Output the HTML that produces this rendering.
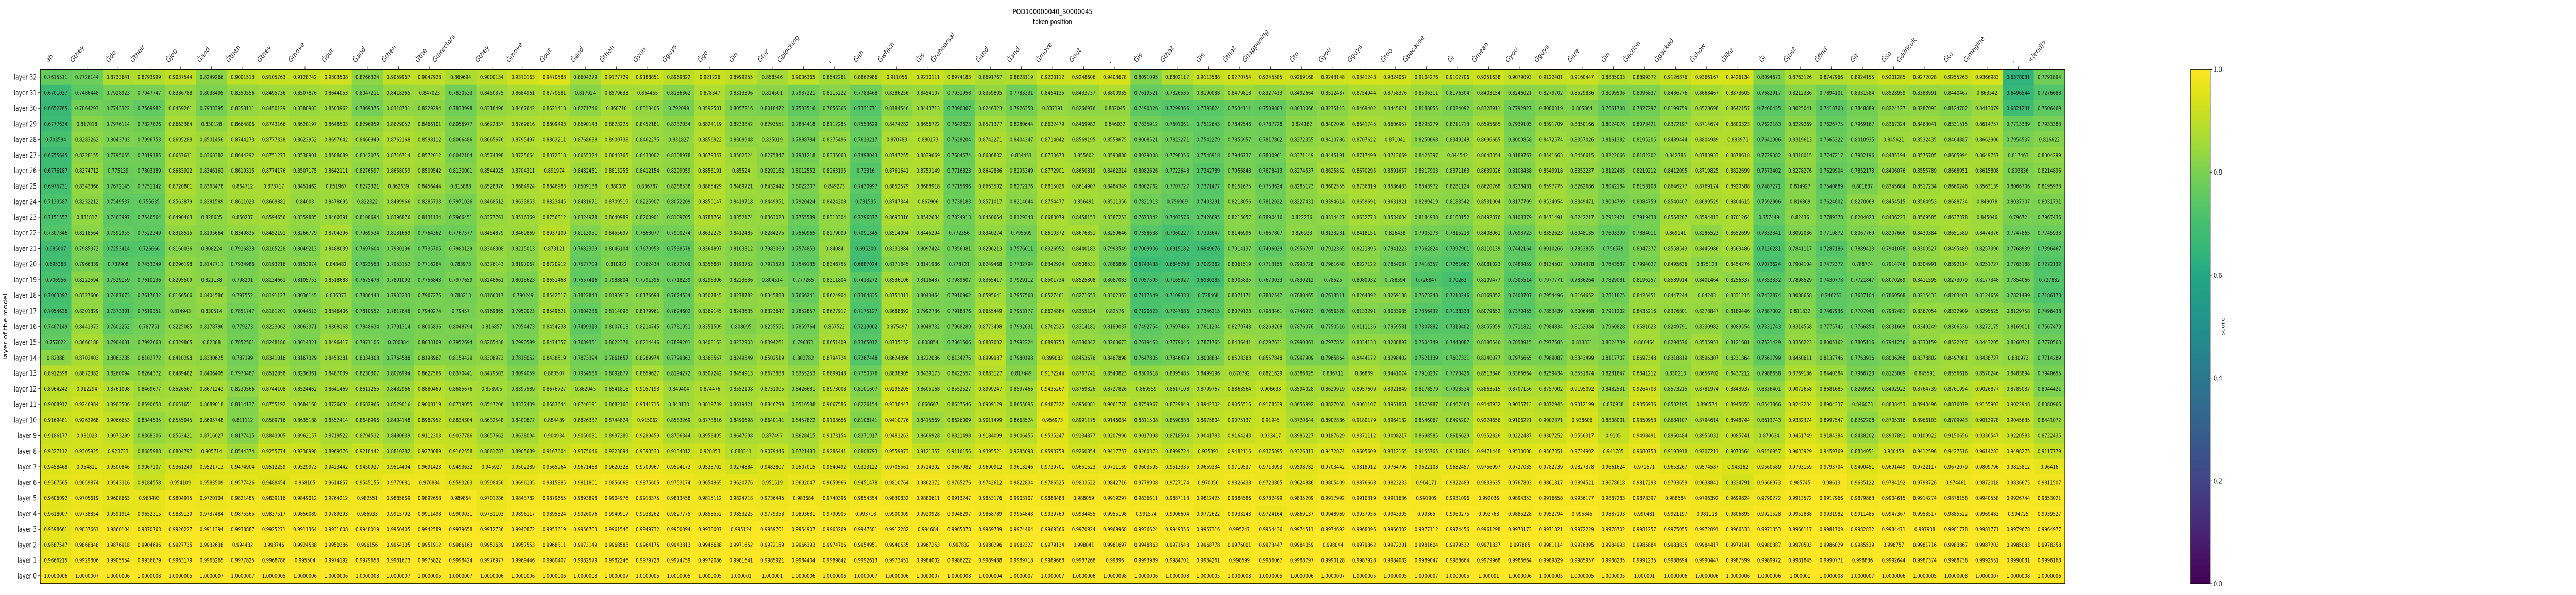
<!DOCTYPE html>
<html><head><meta charset="utf-8">
<style>
html,body{margin:0;padding:0;background:#fff;width:100%;height:100%;overflow:hidden;}
svg{display:block;width:100vw;height:100vh;font-family:"DejaVu Sans","Liberation Sans",sans-serif;}
</style></head>
<body>
<svg id="chart" viewBox="0 0 6500 1155" preserveAspectRatio="none" xmlns="http://www.w3.org/2000/svg">
<defs>
<linearGradient id="viridis" x1="0" y1="1" x2="0" y2="0">
<stop offset="0" stop-color="#440154"/><stop offset="0.1" stop-color="#482475"/><stop offset="0.2" stop-color="#414487"/><stop offset="0.3" stop-color="#355f8d"/><stop offset="0.4" stop-color="#2a788e"/><stop offset="0.5" stop-color="#21918c"/><stop offset="0.6" stop-color="#22a884"/><stop offset="0.65" stop-color="#35b779"/><stop offset="0.7" stop-color="#44bf70"/><stop offset="0.75" stop-color="#5ec962"/><stop offset="0.8" stop-color="#7ad151"/><stop offset="0.85" stop-color="#9fda3a"/><stop offset="0.9" stop-color="#bddf26"/><stop offset="0.95" stop-color="#dfe318"/><stop offset="1" stop-color="#fde725"/>
</linearGradient>
</defs>
<text x="2656" y="28" font-size="15" text-anchor="middle">POD100000040_S0000045</text>
<text x="2656" y="47" font-size="14" text-anchor="middle">token position</text>
<text x="0" y="0" font-size="14" text-anchor="middle" transform="translate(18,634) rotate(-90)">layer of the model</text>
<g id="cells"></g>
<g id="xlabels"></g>
<g id="ylabels"></g>
<rect x="101.5" y="134.5" width="5109" height="998.5" fill="none" stroke="#000" stroke-width="1.6"/>
<g id="colorbar"></g>
</svg>
<script>
const tokens=["ah","Ġthey","Ġdo","Ġtheir","Ġjob","Ġand","Ġthen","Ġthey","Ġmove","Ġout","Ġand","Ġthen","Ġthe","Ġdirectors","Ġthey","Ġmove",
"Ġout","Ġand","Ġthen","Ġyou","Ġguys","Ġgo","Ġin","Ġfor","Ġblocking",",","Ġah","Ġwhich","Ġis","Ġrehearsal","Ġand","Ġand","Ġmove",
"Ġout",",","Ġis","Ġthat","Ġis","Ġthat","Ġhappening","Ġto","Ġyou","Ġguys","Ġtoo","Ġbecause","Ġi","Ġmean","Ġyou","Ġguys",
"Ġare","Ġin","Ġaction","Ġpacked","Ġshow","Ġlike","Ġi","Ġjust","Ġfind","Ġit","Ġso","Ġdifficult","Ġto","Ġimagine",".","<|end|>"];
const layers=["layer 32","layer 31","layer 30","layer 29","layer 28","layer 27","layer 26","layer 25","layer 24","layer 23","layer 22","layer 21","layer 20","layer 19","layer 18","layer 17","layer 16","layer 15","layer 14","layer 13","layer 12","layer 11","layer 10","layer 9","layer 8","layer 7","layer 6","layer 5","layer 4","layer 3","layer 2","layer 1","layer 0"];
const cbTicks=[0.0,0.2,0.4,0.6,0.8,1.0];
const L32=[0.7615511,0.7726144,0.8733641,0.8793999,0.9037544,0.8249266,0.9001513,0.9105763,0.9128742,0.9303508,0.8266324,0.9059967,0.9047928,0.869694,0.9000134,0.9310163,0.9470588,0.8604279,0.9177729,0.9188851,0.8969822,0.921226,0.8999255,0.858546,0.9006365,0.8542281,0.8862986,0.911056,0.9210111,0.8974183,0.8691767,0.8828119,0.9220112,0.9248606,0.9403678,0.8091095,0.8802117,0.9113588,0.9270754,0.9245585,0.9269168,0.9243148,0.9341248,0.9324067,0.9104276,0.9102706,0.9251638,0.9079093,0.9122401,0.9160447,0.8835003,0.8899372,0.9126876,0.9366167,0.9426134,0.8094671,0.8763126,0.8747966,0.8924155,0.9201285,0.9272028,0.9255263,0.9366983,0.6378031,0.7791894];
const L31=[0.6701037,0.7486448,0.7928923,0.7947747,0.8336788,0.8038495,0.8350556,0.8495736,0.8507876,0.8644053,0.8047211,0.8418365,0.847023,0.7830533,0.8450375,0.8684961,0.8770681,0.817024,0.8579633,0.864455,0.8136362,0.878347,0.8313396,0.824501,0.7937221,0.8215222,0.7783468,0.8386256,0.8454107,0.7931958,0.8359805,0.7783331,0.8454135,0.8433737,0.8800935,0.7619521,0.7826535,0.8190088,0.8479818,0.8327413,0.8492664,0.8512437,0.8754944,0.8758376,0.8506311,0.8176304,0.8403154,0.8246021,0.8279702,0.8529836,0.8099506,0.8096837,0.8436776,0.8668467,0.8873605,0.7682917,0.8212386,0.7894101,0.8331584,0.8528959,0.8388991,0.8440467,0.863542,0.6496544,0.7276688];
const L30=[0.6652765,0.7864293,0.7743322,0.7569982,0.8459261,0.7933395,0.8358111,0.8450129,0.8388983,0.8503962,0.7869375,0.8318731,0.8229294,0.7833998,0.8318498,0.8467642,0.8621418,0.8271746,0.860718,0.8318405,0.792099,0.8592581,0.8057216,0.8018472,0.7533516,0.7856365,0.7331771,0.8184546,0.8443713,0.7390307,0.8246323,0.7926358,0.837191,0.8266976,0.832045,0.7490326,0.7299365,0.7393824,0.7634111,0.7539883,0.8033066,0.8235113,0.8469402,0.8445621,0.8188055,0.8024092,0.8328911,0.7792927,0.8080319,0.805864,0.7661708,0.7827297,0.8199759,0.8528698,0.8642157,0.7400435,0.8025041,0.7418703,0.7848889,0.8224127,0.8287093,0.8124782,0.8413079,0.6821231,0.7506469];
const L29=[0.6777634,0.817018,0.7976114,0.7827826,0.8663384,0.830128,0.8664806,0.8743166,0.8620197,0.8648503,0.8296959,0.8629052,0.8466101,0.8056977,0.8622337,0.8769616,0.8809493,0.8690143,0.8823225,0.8452181,0.8232034,0.8824119,0.8233842,0.8293551,0.7834418,0.8112285,0.7553629,0.8474282,0.8656722,0.7642623,0.8571377,0.8280644,0.8632479,0.8469982,0.846032,0.7835912,0.7601061,0.7512643,0.7842548,0.7787728,0.824182,0.8402098,0.8641745,0.8606957,0.8293279,0.8211713,0.8595685,0.7939105,0.8391709,0.8350166,0.8024076,0.8073421,0.8372197,0.8714674,0.8800323,0.7622183,0.8229269,0.7626775,0.7969167,0.8367324,0.8463041,0.8331515,0.8614757,0.7713339,0.7933383];
const L28=[0.703594,0.8283262,0.8043703,0.7996753,0.8695288,0.8501456,0.8744273,0.8777338,0.8623952,0.8697642,0.8466949,0.8762168,0.8598112,0.8066486,0.8665676,0.8795497,0.8863211,0.8768638,0.8900738,0.8462275,0.831827,0.8856922,0.8309948,0.835019,0.7888784,0.8375496,0.7613217,0.870783,0.880173,0.7629204,0.8742271,0.8404347,0.8714042,0.8569195,0.8558675,0.8008521,0.7823271,0.7542279,0.7855957,0.7817862,0.8272355,0.8410786,0.8707622,0.871041,0.8250668,0.8349248,0.8696665,0.8009858,0.8472574,0.8357026,0.8161382,0.8195205,0.8489444,0.8804989,0.883971,0.7641906,0.8319613,0.7665322,0.8010935,0.845621,0.8532435,0.8464887,0.8662906,0.7954537,0.816622];
const L27=[0.6755645,0.8228155,0.7795055,0.7819185,0.8657611,0.8368382,0.8644292,0.8751273,0.8538901,0.8588089,0.8342075,0.8716714,0.8572012,0.8042184,0.8574398,0.8725664,0.8872318,0.8655324,0.8843765,0.8433002,0.8308978,0.8879357,0.8502524,0.8275847,0.7901218,0.8335063,0.7498043,0.8747255,0.8839669,0.7684574,0.8686832,0.834451,0.8730673,0.855602,0.8590888,0.8029008,0.7798356,0.7548918,0.7946737,0.7830961,0.8371149,0.8445191,0.8717499,0.8713669,0.8425397,0.844542,0.8648354,0.8189767,0.8541663,0.8456615,0.8222066,0.8182202,0.842785,0.8783933,0.8878618,0.7729082,0.8318015,0.7747217,0.7982196,0.8485194,0.8575705,0.8605994,0.8649757,0.817463,0.8304299];
const L26=[0.6776187,0.8374712,0.775139,0.7803189,0.8683922,0.8346162,0.8619315,0.8774176,0.8507175,0.8642111,0.8276597,0.8658059,0.8509542,0.8130001,0.8544925,0.8704311,0.891974,0.8482451,0.8815255,0.8412154,0.8299059,0.8856191,0.85524,0.8292162,0.8012552,0.8263195,0.73316,0.8761641,0.8759149,0.7716823,0.8642886,0.8295349,0.8772901,0.8650819,0.8462314,0.8082626,0.7723648,0.7342789,0.7956848,0.7678413,0.8274537,0.8625852,0.8670295,0.8591657,0.8317903,0.8371163,0.8639026,0.8108438,0.8549918,0.8353237,0.8122435,0.8219212,0.8412095,0.8719825,0.8822699,0.7573402,0.8278276,0.7629904,0.7852173,0.8406076,0.8555789,0.8668951,0.8615808,0.803836,0.8214896];
const L25=[0.6975731,0.8343366,0.7672145,0.7751142,0.8720801,0.8363478,0.864712,0.873717,0.8451462,0.851967,0.8272321,0.862639,0.8456444,0.815888,0.8528376,0.8684924,0.8846983,0.8509138,0.880085,0.836787,0.8288538,0.8865429,0.8489721,0.8432442,0.8022307,0.849273,0.7430997,0.8852579,0.8688918,0.7715696,0.8663502,0.8272176,0.8815026,0.8614907,0.8484349,0.8002762,0.7707727,0.7371477,0.8151675,0.7753624,0.8285173,0.8602555,0.8736819,0.8586433,0.8343972,0.8281124,0.8620768,0.8238431,0.8597775,0.8262686,0.8042184,0.8153108,0.8646277,0.8769174,0.8920588,0.7487271,0.814927,0.7540889,0.801837,0.8345684,0.8517234,0.8660246,0.8563139,0.8066706,0.8195933];
const L24=[0.7133587,0.8232212,0.7549537,0.755635,0.8563879,0.8381589,0.8611023,0.8669881,0.84003,0.8478695,0.822322,0.8489966,0.8285733,0.7971026,0.8468512,0.8633853,0.8823445,0.8481671,0.8709519,0.8225907,0.8072209,0.8850147,0.8419718,0.8449951,0.7920424,0.8424208,0.731535,0.8747344,0.867906,0.7738183,0.8571017,0.8214644,0.8754477,0.856491,0.8511356,0.7821913,0.756969,0.7403291,0.8218056,0.7812022,0.8227431,0.8394614,0.8659691,0.8631921,0.8289419,0.8183542,0.8531004,0.8177709,0.8534054,0.8349471,0.8004799,0.8084759,0.8540407,0.8699529,0.8804615,0.7592906,0.816869,0.7624602,0.8270068,0.8454515,0.8564953,0.8688734,0.849078,0.8037307,0.8031731];
const L23=[0.7151557,0.831817,0.7463997,0.7546564,0.8490403,0.828635,0.850237,0.8594656,0.8359885,0.8460391,0.8108694,0.8396876,0.8131134,0.7966451,0.8377761,0.8516369,0.8756812,0.8324978,0.8640989,0.8200901,0.8109705,0.8781764,0.8352174,0.8363023,0.7755589,0.8313304,0.7296377,0.8693316,0.8542634,0.7824913,0.8450664,0.8129348,0.8683079,0.8458153,0.8387253,0.7673842,0.7403576,0.7426695,0.8215057,0.7890416,0.822236,0.8314427,0.8632773,0.8534604,0.8184938,0.8103152,0.8492376,0.8108379,0.8471491,0.8242217,0.7912421,0.7919438,0.8564207,0.8594413,0.8701264,0.757449,0.82436,0.7789378,0.8204023,0.8436223,0.8569585,0.8637378,0.845046,0.79672,0.7967436];
const L22=[0.7307346,0.8218564,0.7592955,0.7522349,0.8318515,0.8195664,0.8349825,0.8452191,0.8266779,0.8704396,0.7969534,0.8181669,0.7764362,0.7767577,0.8454879,0.8469869,0.8937109,0.8113951,0.8455697,0.7863077,0.7900274,0.8632275,0.8412485,0.8284275,0.7560965,0.8279009,0.7091345,0.8514004,0.8445294,0.772356,0.8340274,0.795509,0.8610372,0.8676351,0.8250646,0.7358638,0.7060227,0.7303647,0.8146996,0.7867807,0.826923,0.8133231,0.8418151,0.826438,0.7905273,0.7815213,0.8408061,0.7693723,0.8352623,0.8048135,0.7603299,0.7884011,0.869241,0.8286523,0.8652699,0.7333341,0.8092036,0.7710872,0.8067769,0.8207666,0.8430384,0.8651589,0.8474376,0.7747865,0.7745933];
const L21=[0.685007,0.7985372,0.7253414,0.726666,0.8160036,0.808224,0.7916838,0.8165228,0.8049213,0.8488039,0.7697604,0.7930196,0.7735705,0.7980129,0.8348308,0.8215013,0.873121,0.7682399,0.8046104,0.7670953,0.7538578,0.8364897,0.8163312,0.7983069,0.7574853,0.84084,0.695209,0.8331884,0.8097424,0.7856081,0.8296213,0.7576011,0.8326952,0.8440183,0.7993549,0.7009906,0.6915182,0.6849676,0.7914137,0.7496029,0.7956707,0.7912365,0.8221895,0.7941223,0.7562824,0.7397901,0.8110139,0.7442164,0.8010266,0.7853855,0.756579,0.8047377,0.8558543,0.8445986,0.8563486,0.7126281,0.7841117,0.7287186,0.7889413,0.7941078,0.8300527,0.8495489,0.8257396,0.7768939,0.7396467];
const L20=[0.695383,0.7966339,0.737908,0.7453349,0.8296198,0.8147711,0.7934986,0.8193216,0.8153974,0.848482,0.7623553,0.7953152,0.7716264,0.783973,0.8376143,0.8197067,0.8720912,0.7577709,0.810922,0.7762434,0.7672109,0.8356887,0.8193752,0.7971523,0.7549135,0.8346755,0.6887024,0.8171845,0.8141986,0.778721,0.8249468,0.7732794,0.8342924,0.8508531,0.7886809,0.6743438,0.6845298,0.7022362,0.8061519,0.7713155,0.7993728,0.7961648,0.8227122,0.7854087,0.7418357,0.7261662,0.8081023,0.7483459,0.8134507,0.7914378,0.7643587,0.7994027,0.8495636,0.825123,0.8454276,0.7073624,0.7904104,0.7472372,0.788774,0.7914746,0.8304991,0.8392114,0.8251727,0.7765188,0.7272132];
const L19=[0.706956,0.8222594,0.7529159,0.7610236,0.8295509,0.821138,0.798201,0.8134661,0.8105753,0.8518688,0.7675478,0.7891092,0.7756843,0.7977659,0.8248661,0.8015623,0.8651468,0.7557416,0.7988804,0.7791396,0.7718239,0.8296306,0.8223636,0.804514,0.777265,0.8311804,0.7413272,0.8536106,0.8116437,0.7989607,0.8365417,0.7929112,0.8501734,0.8525808,0.8087083,0.7057595,0.7165927,0.6930285,0.8005835,0.7679033,0.7830212,0.78525,0.8080932,0.788594,0.726847,0.70263,0.8109477,0.7305514,0.7977771,0.7836264,0.7829081,0.8196257,0.8589914,0.8401464,0.8256337,0.7353332,0.7898529,0.7430773,0.7721847,0.8070269,0.8411595,0.8273079,0.8177348,0.7854066,0.727882];
const L18=[0.7003397,0.8327606,0.7487673,0.7617832,0.8166506,0.8404586,0.797552,0.8191127,0.8036145,0.836373,0.7886443,0.7903233,0.7967275,0.788213,0.8166017,0.790249,0.8542517,0.7822843,0.8193912,0.8176698,0.7624534,0.8507845,0.8278782,0.8345888,0.7666241,0.8624904,0.7304835,0.8751311,0.8043464,0.7910962,0.8595641,0.7957568,0.8527461,0.8271653,0.8302363,0.7117549,0.7109333,0.728468,0.8071171,0.7882547,0.7880465,0.7618511,0.8264892,0.8269188,0.7573248,0.7210246,0.8169852,0.7408707,0.7954496,0.8164652,0.7811875,0.8425451,0.8447244,0.84243,0.8331215,0.7432874,0.8088658,0.746253,0.7637104,0.7860568,0.8215433,0.8203401,0.8124659,0.7821499,0.7186178];
const L17=[0.7054636,0.8301829,0.7373301,0.7619351,0.814943,0.830514,0.7851747,0.8181201,0.8044513,0.8346406,0.7810552,0.7817646,0.7940274,0.79457,0.8169865,0.7950023,0.8549621,0.7604236,0.8114098,0.8179961,0.7624602,0.8369145,0.8243635,0.8323647,0.7852857,0.8627917,0.7175127,0.8688892,0.7992736,0.7918376,0.8655449,0.7953177,0.8624884,0.8355124,0.82576,0.7120823,0.7247686,0.7346215,0.8079123,0.7983461,0.7746973,0.7656328,0.8133291,0.8033985,0.7356432,0.7138333,0.8079652,0.7370455,0.7853439,0.8006468,0.7911202,0.8435216,0.8376801,0.8378847,0.8189446,0.7387002,0.811832,0.7467936,0.7707046,0.7932481,0.8367054,0.8332909,0.8295525,0.8129758,0.7496438];
const L16=[0.7467149,0.8441373,0.7602252,0.787751,0.8225085,0.8178796,0.779273,0.8223062,0.8063371,0.8308168,0.7848634,0.7791314,0.8005836,0.8048794,0.816857,0.7954473,0.8454238,0.7499313,0.8007613,0.8214745,0.7781951,0.8351509,0.808095,0.8255551,0.7859764,0.857522,0.7219002,0.875497,0.8048732,0.7968289,0.8773498,0.7932631,0.8702525,0.8314181,0.8189037,0.7492754,0.7697486,0.7811204,0.8270748,0.8269208,0.7876076,0.7750516,0.8111136,0.7959581,0.7307882,0.7319402,0.8055959,0.7711822,0.7984834,0.8152384,0.7960828,0.8581623,0.8249791,0.8330982,0.8089554,0.7331743,0.8314558,0.7775745,0.7766854,0.8031609,0.8349249,0.8306536,0.8272175,0.8169011,0.7567479];
const L15=[0.757022,0.8666188,0.7904681,0.7992668,0.8329865,0.82388,0.7852501,0.8248186,0.8014321,0.8496417,0.7971105,0.780884,0.8033109,0.7952694,0.8265438,0.7990599,0.8474357,0.7689351,0.8022371,0.8214446,0.7899201,0.8408163,0.8232903,0.8394261,0.796871,0.8651409,0.7365012,0.8735152,0.808854,0.7861506,0.8887002,0.7992224,0.8898753,0.8380842,0.8263673,0.7619453,0.7779045,0.7871765,0.8436441,0.8297631,0.7990361,0.7977854,0.8334133,0.8288897,0.7504749,0.7440087,0.8186546,0.7858915,0.7977585,0.813331,0.8024739,0.860464,0.8294576,0.8535951,0.8121681,0.7521429,0.8356223,0.8005162,0.7805116,0.7941256,0.8330159,0.8522207,0.8443205,0.8260721,0.7770563];
const L14=[0.82388,0.8702403,0.8063235,0.8102772,0.8410298,0.8330625,0.787199,0.8341016,0.8167329,0.8453381,0.8034303,0.7764588,0.8198967,0.8159429,0.8308973,0.7818052,0.8438519,0.7873394,0.7861657,0.8289974,0.7799362,0.8368567,0.8249549,0.8502519,0.802782,0.8794724,0.7267448,0.8624896,0.8222086,0.8134276,0.8999987,0.7980198,0.899083,0.8453676,0.8467898,0.7647805,0.7846479,0.8008834,0.8528383,0.8557848,0.7997909,0.7965864,0.8444172,0.8298402,0.7521139,0.7607331,0.8240077,0.7976665,0.7989087,0.8343499,0.8117707,0.8697348,0.8318819,0.8596307,0.8231364,0.7561799,0.8450611,0.8137746,0.7763916,0.8006268,0.8378802,0.8497081,0.8438727,0.830973,0.7714289];
const L13=[0.8912598,0.8872382,0.8260094,0.8264372,0.8489482,0.8406405,0.7970487,0.8512858,0.8236361,0.8487039,0.8230307,0.8076994,0.8627566,0.8370441,0.8479503,0.8094059,0.860507,0.7954586,0.8092877,0.8659627,0.8194272,0.8507242,0.8454913,0.8673888,0.8355253,0.8899148,0.7750376,0.8838905,0.8439173,0.8422557,0.8883127,0.817449,0.9172244,0.8767741,0.8540823,0.8300618,0.8395485,0.8499196,0.870792,0.8821629,0.8386625,0.836711,0.86869,0.8441074,0.7910237,0.7770426,0.8513346,0.8366664,0.8259434,0.8551874,0.8281847,0.8841212,0.830213,0.8656702,0.8437212,0.7988658,0.8769186,0.8440384,0.7966723,0.8123009,0.845591,0.8556616,0.8570246,0.8483894,0.7940655];
const L12=[0.8964242,0.912294,0.8761098,0.8469677,0.8526567,0.8671242,0.8230566,0.8744108,0.8524462,0.8641469,0.8611255,0.8432966,0.8880469,0.8685676,0.858905,0.8397589,0.8676727,0.862045,0.8541816,0.9057193,0.849404,0.874476,0.8552108,0.8731005,0.8426681,0.8973008,0.8101607,0.9295205,0.8605168,0.8552527,0.8999247,0.8597466,0.9435267,0.8769326,0.8727826,0.869559,0.8617108,0.8799767,0.8863564,0.906633,0.8594028,0.8629919,0.8957609,0.8921849,0.8178579,0.7993534,0.8863515,0.8707156,0.8757002,0.9195092,0.8482531,0.9264703,0.8573215,0.8781974,0.8843937,0.8336401,0.9072658,0.8681685,0.8269992,0.8492922,0.8764739,0.8761994,0.9026877,0.8785087,0.8044421];
const L11=[0.9008912,0.9246984,0.8903506,0.8590658,0.8651651,0.8689018,0.8114137,0.8755192,0.8684168,0.8726634,0.8682966,0.8529016,0.9008119,0.8719055,0.8547206,0.8337439,0.8683644,0.8740191,0.8682168,0.9141715,0.848133,0.8819739,0.8619421,0.8846799,0.8510588,0.9067586,0.8226154,0.9338447,0.866667,0.8637546,0.8989129,0.8655095,0.9487222,0.8956081,0.9061778,0.8759967,0.8729849,0.8942302,0.9055516,0.9178539,0.8656992,0.8827058,0.9061107,0.8951861,0.8525987,0.8407463,0.9148932,0.9035713,0.8872945,0.9312199,0.870938,0.9356936,0.8582195,0.890574,0.8945655,0.8543866,0.9242234,0.8904337,0.846073,0.8838453,0.8940496,0.8876079,0.9155903,0.9022948,0.8380966];
const L10=[0.9169481,0.9263968,0.9066653,0.8344535,0.8555045,0.8695748,0.811112,0.8589716,0.8635188,0.8552414,0.8648996,0.8404148,0.8987952,0.8834304,0.8632548,0.8400877,0.884489,0.8826337,0.8744824,0.915062,0.8583269,0.8773816,0.8490698,0.8640141,0.8457822,0.9103666,0.8108141,0.9410776,0.8415569,0.8626009,0.9011499,0.8663524,0.956973,0.8991175,0.9146084,0.8811508,0.8590888,0.8975804,0.9075137,0.91945,0.8720644,0.8902886,0.9180179,0.8964182,0.8546067,0.8495207,0.9224656,0.9106221,0.9002871,0.938606,0.8808001,0.9350958,0.8684107,0.8794614,0.8948744,0.8613743,0.9332374,0.8997547,0.8262208,0.8705316,0.8966103,0.8709943,0.9013978,0.9045635,0.8441072];
const L9=[0.9186177,0.931023,0.9073289,0.8368306,0.8553421,0.8716027,0.8177415,0.8843905,0.8962157,0.8719522,0.8794532,0.8480639,0.9112303,0.9037786,0.8657662,0.8638094,0.904934,0.9050031,0.8997289,0.9289459,0.8796344,0.8958495,0.8647698,0.877497,0.8628415,0.9173154,0.8371917,0.9481263,0.8666928,0.8821498,0.9184099,0.9006455,0.9535247,0.9134877,0.9207996,0.9017098,0.8718594,0.9041783,0.9164243,0.933417,0.8985227,0.9187629,0.9371112,0.9098217,0.8698585,0.8616629,0.9352826,0.9222487,0.9307252,0.9556317,0.9105,0.9498491,0.8960484,0.8955031,0.9085741,0.879634,0.9451749,0.9184384,0.8438202,0.8907891,0.9109922,0.9150656,0.9336547,0.9220583,0.8722435];
const L8=[0.9327112,0.9305925,0.923733,0.8685988,0.8804797,0.905714,0.8544374,0.9255774,0.9238998,0.8969376,0.9218442,0.8810282,0.9278089,0.9162558,0.8861787,0.8905689,0.9167604,0.9375646,0.9223894,0.9393533,0.9134312,0.928853,0.888341,0.9079446,0.8721483,0.9286441,0.8808793,0.9559973,0.9121357,0.9116156,0.9395521,0.9285098,0.9593759,0.9260854,0.9417757,0.9260373,0.8999724,0.925891,0.9482116,0.9375895,0.9326311,0.9472874,0.9605609,0.9312165,0.9155765,0.9116104,0.9471448,0.9530008,0.9567351,0.9724902,0.941785,0.9680758,0.9193918,0.9207211,0.9073564,0.9156957,0.9633929,0.9459769,0.8834051,0.930459,0.9412596,0.9427516,0.9614283,0.9498275,0.9117779];
const L7=[0.9458468,0.954811,0.9500846,0.9067207,0.9361249,0.9521713,0.9474904,0.9512259,0.9529973,0.9423442,0.9450927,0.9514404,0.9691423,0.9493632,0.945927,0.9502289,0.9565964,0.9671468,0.9620323,0.9709967,0.9594173,0.9533702,0.9274884,0.9483807,0.9507015,0.9540492,0.9323122,0.9705561,0.9724302,0.9667982,0.9690912,0.9613246,0.9739701,0.9651523,0.9711169,0.9603595,0.9513335,0.9659334,0.9719537,0.9713093,0.9598782,0.9703442,0.9818912,0.9764796,0.9622108,0.9682457,0.9756997,0.9727035,0.9782739,0.9827378,0.9661624,0.972571,0.9653267,0.9574587,0.943162,0.9560589,0.9793159,0.9793704,0.9490451,0.9691449,0.9722117,0.9672079,0.9809796,0.9815812,0.96416];
const L6=[0.9567565,0.9659874,0.9543316,0.9184558,0.954109,0.9583509,0.9577426,0.9488454,0.968105,0.9614857,0.9545155,0.9779681,0.976884,0.9593263,0.9598456,0.9696195,0.9815885,0.9811801,0.9856068,0.9875605,0.9753174,0.9654965,0.9620776,0.951519,0.9692047,0.9659966,0.9451478,0.9810764,0.9862372,0.9765276,0.9742612,0.9822834,0.9786525,0.9803522,0.9842716,0.9778908,0.9727174,0.970056,0.9826438,0.9723805,0.9624886,0.9805409,0.9876668,0.9823233,0.964171,0.9822489,0.9833635,0.9767803,0.9861817,0.9894521,0.9678618,0.9817293,0.9793659,0.9638841,0.9334791,0.9666973,0.985745,0.98613,0.9635122,0.9784192,0.9798726,0.974461,0.9872018,0.9836675,0.9811507];
const L5=[0.9606092,0.9705619,0.9608663,0.963493,0.9804915,0.9720104,0.9821485,0.9839116,0.9849012,0.9764212,0.982551,0.9885669,0.9892658,0.989854,0.9701286,0.9843782,0.9879655,0.9893898,0.9904976,0.9913375,0.9813458,0.9815112,0.9824718,0.9736445,0.983684,0.9740396,0.9854354,0.9830832,0.9880611,0.9913247,0.9853176,0.9903107,0.9888483,0.988059,0.9919297,0.9836611,0.9887113,0.9812425,0.9884586,0.9782499,0.9835209,0.9917992,0.9910319,0.9911636,0.991909,0.9931096,0.992036,0.9894353,0.9916658,0.9936177,0.9887283,0.9878397,0.988584,0.9796392,0.9699824,0.9790272,0.9913572,0.9917966,0.9879863,0.9904615,0.9914274,0.9878158,0.9940558,0.9926744,0.9853021];
const L4=[0.9618007,0.9738854,0.9591914,0.9652315,0.9839139,0.9737484,0.9875565,0.9837517,0.9856089,0.9789293,0.986933,0.9915792,0.9911498,0.9909031,0.9731103,0.9896117,0.9895324,0.9926076,0.9940917,0.9938262,0.9827775,0.9858552,0.9853225,0.9779353,0.9893681,0.9790905,0.993718,0.9900009,0.9920928,0.9948297,0.9868789,0.9954848,0.9939769,0.9934455,0.9955198,0.991574,0.9906604,0.9772622,0.9933243,0.9724164,0.9869137,0.9948969,0.9937956,0.9943305,0.99365,0.9960275,0.993763,0.9885228,0.9952794,0.995845,0.9887193,0.990481,0.9921197,0.981118,0.9806895,0.9921528,0.9952888,0.9931982,0.9911485,0.9947367,0.9953517,0.9885522,0.9969483,0.994725,0.9939527];
const L3=[0.9598661,0.9837661,0.9860104,0.9870763,0.9926227,0.9911394,0.9938887,0.9925271,0.9911364,0.9931608,0.9948019,0.9950405,0.9942589,0.9979658,0.9912736,0.9940872,0.9953619,0.9956703,0.9961546,0.9949732,0.9900094,0.9938007,0.995124,0.9959701,0.9954907,0.9963269,0.9947581,0.9912282,0.994684,0.9965078,0.9969789,0.9974464,0.9969366,0.9970924,0.9969968,0.9936624,0.9949356,0.9957316,0.995247,0.9954436,0.9974511,0.9974692,0.9968096,0.9966302,0.9977112,0.9974456,0.9961298,0.9973173,0.9971821,0.9972229,0.9978702,0.9981257,0.9975055,0.9972091,0.9966533,0.9971353,0.9966117,0.9981709,0.9982832,0.9984471,0.997938,0.9981778,0.9981771,0.9979678,0.9964977];
const L2=[0.9587547,0.9868848,0.9876918,0.9904696,0.9927735,0.9932638,0.994432,0.993746,0.9924538,0.9950386,0.996156,0.9954305,0.9951912,0.9986163,0.9952639,0.9957553,0.9968311,0.9973149,0.9968583,0.9964175,0.9943813,0.9946638,0.9971652,0.9972159,0.9966393,0.9974706,0.9954951,0.9940535,0.9967253,0.997832,0.9980296,0.9982327,0.9979134,0.998041,0.9981697,0.9948863,0.9971548,0.9968778,0.9976001,0.9973447,0.9984059,0.998044,0.9979362,0.9972201,0.9981604,0.9979532,0.9971837,0.997885,0.9981114,0.9976395,0.9984993,0.9985884,0.9983835,0.9984417,0.9979141,0.9980387,0.9970503,0.9986029,0.9985539,0.998757,0.9981716,0.9983867,0.9987203,0.9985083,0.9978358];
const L1=[0.9666215,0.9929806,0.9905554,0.9936879,0.9963179,0.9963265,0.9977825,0.9968786,0.995504,0.9974192,0.9979658,0.9981673,0.9975822,0.9998424,0.9976977,0.9969446,0.9980407,0.9982579,0.9982246,0.9979728,0.9974759,0.9972086,0.9981641,0.9985921,0.9984404,0.9989842,0.9992613,0.9973451,0.9984002,0.9986222,0.9989488,0.9989718,0.9989668,0.9987268,0.99896,0.9993989,0.9984701,0.9984261,0.998599,0.9986067,0.9988797,0.9990128,0.9987928,0.9984082,0.9989047,0.9988664,0.9979968,0.9986664,0.9989829,0.9985957,0.9988235,0.9991235,0.9988694,0.9990447,0.9987599,0.9989972,0.9981845,0.9990771,0.998836,0.9992644,0.9987374,0.9988738,0.9992551,0.9990031,0.9996168];
const L0=[1.0000006,1.0000007,1.0000006,1.0000008,1.0000005,1.0000007,1.0000007,1.0000005,1.0000006,1.0000006,1.0000008,1.0000007,1.0000005,1.0000007,1.0000006,1.0000006,1.0000006,1.0000008,1.0000007,1.0000005,1.0000005,1.0000005,1.000001,1.000001,1.0000006,1.0000006,1.0000007,1.0000006,1.0000007,1.0000008,1.0000004,1.0000007,1.0000007,1.0000006,1.0000008,1.0000006,1.0000008,1.0000005,1.0000008,1.0000005,1.0000006,1.0000007,1.0000005,1.0000005,1.0000007,1.0000005,1.000001,1.0000006,1.0000005,1.0000005,1.0000005,1.000001,1.0000006,1.0000006,1.0000006,1.0000006,1.000001,1.0000008,1.0000007,1.0000006,1.0000005,1.0000008,1.0000007,1.0000008,1.0000006];
const rows=[L32,L31,L30,L29,L28,L27,L26,L25,L24,L23,L22,L21,L20,L19,L18,L17,L16,L15,L14,L13,L12,L11,L10,L9,L8,L7,L6,L5,L4,L3,L2,L1,L0];

const NS="http://www.w3.org/2000/svg";
const X0=101.5,X1=5210.5,Y0=134.5,Y1=1133;
const cw=(X1-X0)/tokens.length, rh=(Y1-Y0)/layers.length;
const xPos=i=>X0+i*cw, yPos=j=>Y0+j*rh;
const CB_X=5527,CB_W=50,CB_Y0=134.5,CB_Y1=1133;
const cbY=v=>CB_Y1-(v-0)/(1-0)*(CB_Y1-CB_Y0);
const vStops=[[0,[68,1,84]],[0.1,[72,36,117]],[0.2,[65,68,135]],[0.3,[53,95,141]],[0.4,[42,120,142]],[0.5,[33,145,140]],[0.6,[34,168,132]],[0.65,[53,183,121]],[0.7,[68,191,112]],[0.75,[94,201,98]],[0.8,[122,209,81]],[0.85,[159,218,58]],[0.9,[189,223,38]],[0.95,[223,227,24]],[1,[253,231,37]]];
function viridis(t){t=Math.max(0,Math.min(1,t));for(let k=1;k<vStops.length;k++){if(t<=vStops[k][0]){const a=vStops[k-1],b=vStops[k];const f=(t-a[0])/(b[0]-a[0]);const c=a[1].map((v,i)=>Math.round(v+(b[1][i]-v)*f));return`rgb(${c[0]},${c[1]},${c[2]})`;}}return"rgb(253,231,37)";}
function mk(tag,attrs,parent){const e=document.createElementNS(NS,tag);for(const k in attrs)e.setAttribute(k,attrs[k]);parent.appendChild(e);return e;}

const gc=document.getElementById('cells');
rows.forEach((row,j)=>{row.forEach((v,i)=>{
  const r=mk('rect',{x:xPos(i),y:yPos(j),width:cw+0.6,height:rh+0.6,fill:viridis(v)},gc);
  
  
  const t=mk('text',{x:xPos(i)+cw/2,y:yPos(j)+rh/2+4,'font-size':11,'text-anchor':'middle',fill:'#111'},gc);
  
  
  t.textContent=String(v);
});});

const gx=document.getElementById('xlabels');
tokens.forEach((tk,i)=>{
  const cx=xPos(i)+cw/2;
  const tick=mk('line',{x1:cx,y1:Y0,x2:cx,y2:Y0-5,stroke:'#000','stroke-width':1},gx);
  
  
  const t=mk('text',{x:0,y:0,'font-size':14,fill:'#222'},gx);
  
  
  t.textContent=tk;
  const len=tk.length*8.2;
  const x0=cx-0.707*(len+10);
  t.setAttribute('transform',`translate(${x0},${Y0-12}) rotate(-45)`);
});

const gy=document.getElementById('ylabels');
layers.forEach((ly,j)=>{
  const cy=yPos(j)+rh/2;
  const tick=mk('line',{x1:X0,y1:cy,x2:X0-5,y2:cy,stroke:'#000','stroke-width':1},gy);
  
  
  const t=mk('text',{x:X0-9,y:cy+5,'font-size':14,'text-anchor':'end',fill:'#222'},gy);
  
  
  t.textContent=ly;
});

const gcb=document.getElementById('colorbar');
const bar=mk('rect',{x:CB_X,y:CB_Y0,width:CB_W,height:CB_Y1-CB_Y0,fill:'url(#viridis)',stroke:'#000','stroke-width':0.8},gcb);


cbTicks.forEach(v=>{
  const y=cbY(v);
  const tk=mk('line',{x1:CB_X+CB_W,y1:y,x2:CB_X+CB_W+5,y2:y,stroke:'#000','stroke-width':1},gcb);
  
  
  const t=mk('text',{x:CB_X+CB_W+9,y:y+5,'font-size':13,fill:'#222'},gcb);
  
  
  t.textContent=v.toFixed(1);
});
const cl=mk('text',{x:0,y:0,'font-size':13,'text-anchor':'middle',fill:'#222',transform:`translate(${CB_X+CB_W+36},${(CB_Y0+CB_Y1)/2}) rotate(-90)`},gcb);


cl.textContent='score';
</script>
</body></html>
